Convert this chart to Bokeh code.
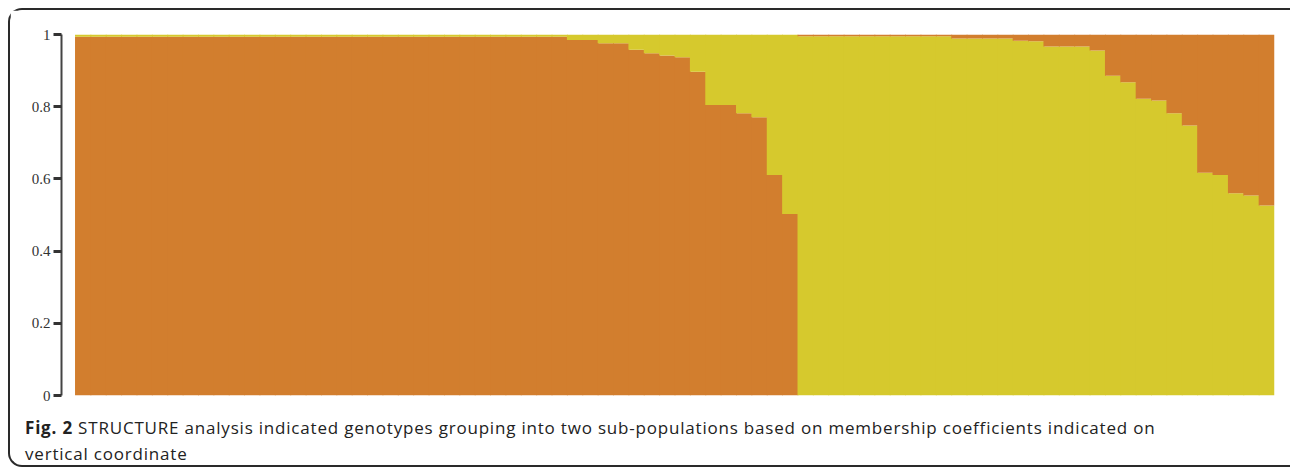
from bokeh.plotting import figure
from bokeh.layouts import column
from bokeh.models import ColumnDataSource, Range1d, FixedTicker, Div
from bokeh.embed import file_html
from bokeh.resources import INLINE

# ---- data: membership coefficients ----
# Group A (first 47 genotypes): membership in cluster 1 (orange)
cluster1_groupA = [0.994] * 32 + [0.985, 0.985, 0.976, 0.976, 0.958, 0.948, 0.942,
                                  0.937, 0.897, 0.805, 0.805, 0.782, 0.771, 0.611, 0.503]
# Group B (last 31 genotypes): membership in cluster 2 (yellow)
cluster2_groupB = [0.995] * 10 + [0.989] * 4 + [0.983, 0.981, 0.967, 0.967, 0.967,
                                                0.956, 0.886, 0.868, 0.822, 0.817, 0.782,
                                                0.748, 0.617, 0.611, 0.560, 0.554, 0.526]
yticks = [0, 0.2, 0.4, 0.6, 0.8, 1]
ytick_labels = ["0", "0.2", "0.4", "0.6", "0.8", "1"]
caption_bold = "Fig. 2"
caption_line1 = "STRUCTURE analysis indicated genotypes grouping into two sub-populations based on membership coefficients indicated on"
caption_line2 = "vertical coordinate"

ORANGE = "#D27E2E"
YELLOW = "#D6C92D"

n_a = len(cluster1_groupA)
n_b = len(cluster2_groupB)
n = n_a + n_b

# build stacked segments from the data
xs, bottoms, tops, colors = [], [], [], []
for i, q in enumerate(cluster1_groupA):
    xs += [i, i]
    bottoms += [0, q]
    tops += [q, 1]
    colors += [ORANGE, YELLOW]
for j, q in enumerate(cluster2_groupB):
    i = n_a + j
    xs += [i, i]
    bottoms += [0, q]
    tops += [q, 1]
    colors += [YELLOW, ORANGE]

src = ColumnDataSource(dict(x=xs, bottom=bottoms, top=tops, color=colors))

W = 1280
H_PLOT = 395
H_CAP = 60
left_pad_units = 0.91
x0 = -0.5 - left_pad_units
x1 = n - 0.5

p = figure(width=W, height=H_PLOT, output_backend="svg", toolbar_location=None,
           x_range=Range1d(x0, x1), y_range=Range1d(0, 1),
           x_axis_location=None,
           min_border_left=51, min_border_right=16, min_border_top=24, min_border_bottom=10)
p.outline_line_color = None
p.grid.visible = False
p.background_fill_color = "white"
p.border_fill_color = "white"

p.vbar(x="x", bottom="bottom", top="top", width=1.06, source=src,
       fill_color="color", line_color=None)

ax = p.yaxis[0]
ax.ticker = FixedTicker(ticks=yticks)
ax.major_label_overrides = {t: l for t, l in zip(yticks, ytick_labels)}
ax.minor_tick_line_color = None
ax.axis_line_color = "#444444"
ax.axis_line_width = 2
ax.major_tick_line_color = "#333333"
ax.major_tick_line_width = 3
ax.major_tick_out = 8
ax.major_tick_in = 0
ax.major_label_standoff = 3
ax.major_label_text_font = "Liberation Serif"
ax.major_label_text_font_size = "15px"
ax.major_label_text_color = "#333333"

# ---- caption ----
cap_html = (
    '<div style="font-family: \'Open Sans\', sans-serif; font-size: 17px; '
    'line-height: 26px; letter-spacing: 0.8px; color: #222222; white-space: nowrap; '
    'padding-left: 15px; padding-top: 10px; margin: 0;">'
    f'<span style="font-weight: 700;">{caption_bold}</span> {caption_line1}<br>'
    f'{caption_line2}</div>'
)
cap = Div(text=cap_html, width=W, height=H_CAP, margin=0, styles={"overflow": "hidden"})

layout = column(p, cap, spacing=0)
layout.styles = {"margin-left": "8px", "margin-top": "8px",
                 "border-left": "2px solid #2a2a2a", "border-top": "2px solid #2a2a2a",
                 "border-bottom": "2px solid #2a2a2a",
                 "border-top-left-radius": "14px", "border-bottom-left-radius": "14px"}

open("out.html", "w").write(file_html(layout, INLINE))
